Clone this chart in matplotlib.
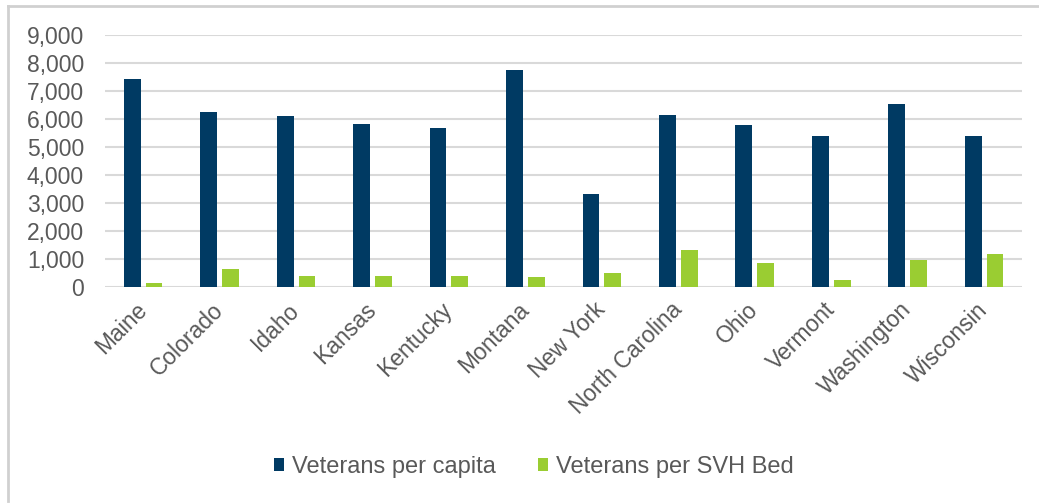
import numpy as np
import matplotlib.pyplot as plt
from matplotlib.lines import Line2D

states = ["Maine", "Colorado", "Idaho", "Kansas", "Kentucky", "Montana",
          "New York", "North Carolina", "Ohio", "Vermont", "Washington", "Wisconsin"]
per_capita = [7410, 6245, 6090, 5830, 5675, 7730, 3310, 6150, 5780, 5390, 6540, 5380]
per_bed = [150, 640, 400, 400, 395, 355, 485, 1305, 840, 235, 960, 1175]

navy = "#003A63"
green = "#9ACD32"
text_col = "#595959"

plt.rcParams["font.family"] = ["Liberation Sans", "DejaVu Sans"]

fig = plt.figure(figsize=(10.39, 5.04), dpi=100)
ax = fig.add_axes([0.101, 0.4306, 0.883, 0.5004])

x = np.arange(len(states))
w = 0.22
ax.bar(x - 0.1425, per_capita, w, color=navy, label="Veterans per capita", zorder=3)
ax.bar(x + 0.1425, per_bed, w, color=green, label="Veterans per SVH Bed", zorder=3)

ax.set_xlim(-0.5, len(states) - 0.5)
ax.set_ylim(0, 9000)
ax.set_yticks(range(0, 9001, 1000))
ax.set_yticklabels(["{:,}".format(v) for v in range(0, 9001, 1000)])
ax.grid(axis="y", color="#D9D9D9", linewidth=1.5, zorder=0)
ax.set_axisbelow(True)
for s in ax.spines.values():
    s.set_visible(False)

ax.set_xticks(x)
ax.set_xticklabels(states, rotation=45, ha="right", va="center", rotation_mode="anchor")
ax.tick_params(axis="x", length=0, pad=14, labelsize=16.5, labelcolor=text_col)
ax.tick_params(axis="y", length=0, pad=15, labelsize=16.5, labelcolor=text_col)

fig.legend(loc="center", bbox_to_anchor=(0.514, 0.073), ncol=2, frameon=False,
           fontsize=17, labelcolor=text_col, handlelength=0.4, handleheight=0.45,
           handletextpad=0.35, columnspacing=1.8)

# thin frame around the chart
fig.add_artist(Line2D([0.008, 0.008], [0.005, 0.988], color="#D0D0D0", lw=2, transform=fig.transFigure))
fig.add_artist(Line2D([0.008, 1.0], [0.988, 0.988], color="#D0D0D0", lw=2, transform=fig.transFigure))

fig.savefig("out.png", dpi=100)
